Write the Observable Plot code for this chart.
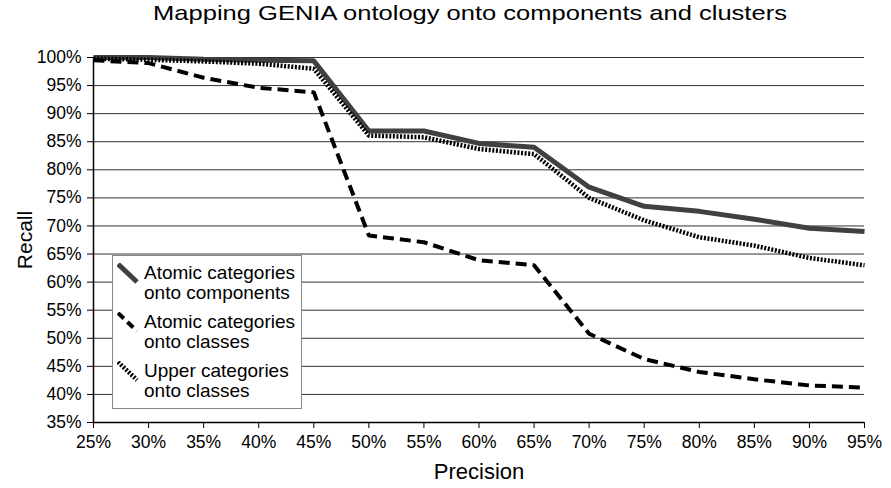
<!DOCTYPE html>
<html>
<head>
<meta charset="utf-8">
<script src="https://cdn.jsdelivr.net/npm/d3@7"></script>
<script src="https://cdn.jsdelivr.net/npm/@observablehq/plot@0.6"></script>
<style>
  body { margin: 0; background: #fff; font-family: "Liberation Sans", Arial, sans-serif; }
  #wrap { position: relative; width: 891px; height: 488px; overflow: hidden; background: #fff; }
  #title { position: relative; height: 36px; }
  #title span { position: absolute; left: 470px; top: 1px; font-size: 21px; white-space: nowrap; color: #000; transform-origin: center; }
  #legend { position: absolute; left: 112px; top: 255px; width: 188px; height: 152px; border: 1px solid #888; background: #fff; }
  .entry { position: absolute; left: 0; width: 188px; height: 46px; }
  .entry svg { position: absolute; left: 4px; top: 0; }
  .entry .lbl { position: absolute; left: 31px; top: 0; font-size: 19px; line-height: 20.5px; color: #000; white-space: nowrap; }
</style>
</head>
<body>
<div id="wrap">
  <div id="title"><span id="titletext"></span></div>
  <div id="chart"></div>
  <div id="legend"></div>
</div>
<script>
const titleText = "Mapping GENIA ontology onto components and clusters";
const xLabel = "Precision";
const yLabel = "Recall";

const precision = [25, 30, 35, 40, 45, 50, 55, 60, 65, 70, 75, 80, 85, 90, 95];
const atomicComponents = [100, 100, 99.7, 99.5, 99.4, 86.9, 86.9, 84.7, 84.0, 76.9, 73.5, 72.6, 71.2, 69.6, 69.0];
const atomicClasses = [99.5, 99.0, 96.4, 94.6, 93.8, 68.3, 67.1, 63.9, 63.0, 50.8, 46.3, 44.0, 42.7, 41.6, 41.2];
const upperClasses = [99.8, 99.6, 99.3, 98.9, 98.0, 86.1, 85.8, 83.7, 82.8, 75.0, 71.0, 68.0, 66.5, 64.3, 63.0];

const yTicks = [35, 40, 45, 50, 55, 60, 65, 70, 75, 80, 85, 90, 95, 100];
const xTicks = precision;

const seriesNames = [
  ["Atomic categories", "onto components"],
  ["Atomic categories", "onto classes"],
  ["Upper categories", "onto classes"]
];
const seriesStyles = [
  { stroke: "#404040", strokeWidth: 5, strokeDasharray: null },
  { stroke: "#000", strokeWidth: 4, strokeDasharray: "11,6" },
  { stroke: "#000", strokeWidth: 4.5, strokeDasharray: "2,1.6" }
];
const seriesValues = [atomicComponents, atomicClasses, upperClasses];

const pct = d => d + "%";
const font = '"Liberation Sans", Arial, sans-serif';

const lineMarks = seriesValues.map((vals, i) => {
  const s = seriesStyles[i];
  const opts = { x: precision, y: vals, stroke: s.stroke, strokeWidth: s.strokeWidth, strokeLinecap: "butt", strokeLinejoin: "miter" };
  if (s.strokeDasharray) opts.strokeDasharray = s.strokeDasharray;
  return Plot.line(vals, opts);
});

const chart = Plot.plot({
  width: 891,
  height: 452,
  marginLeft: 93,
  marginRight: 27,
  marginTop: 21,
  marginBottom: 66,
  style: { fontFamily: font, background: "white", color: "black", overflow: "visible" },
  x: { domain: [25, 95] },
  y: { domain: [35, 100] },
  marks: [
    Plot.gridY(yTicks, { stroke: "#333", strokeOpacity: 1, strokeWidth: 1 }),
    Plot.axisY(yTicks, { tickFormat: pct, tickSize: 6, tickPadding: 6, fontSize: 17.5, label: null }),
    Plot.axisX(xTicks, { tickFormat: pct, tickSize: 6, tickPadding: 7, fontSize: 17.5, label: null }),
    Plot.ruleY([35], { stroke: "black", strokeWidth: 1.5 }),
    Plot.ruleX([25], { stroke: "black", strokeWidth: 1.5 }),
    ...lineMarks,
    Plot.text([xLabel], { text: d => d, frameAnchor: "bottom", dy: 56, lineAnchor: "bottom", textAnchor: "middle", fontSize: 22 }),
    Plot.text([yLabel], { text: d => d, frameAnchor: "left", dx: -62, rotate: -90, lineAnchor: "bottom", textAnchor: "middle", fontSize: 21 })
  ]
});
document.getElementById("chart").appendChild(chart);

// title
const ts = document.getElementById("titletext");
ts.textContent = titleText;
const natural = ts.offsetWidth;
const k = 634 / natural;
ts.style.transform = `translateX(-50%) scaleX(${k})`;

// legend
const legend = document.getElementById("legend");
const entryTops = [6.5, 55.5, 104.5];
seriesNames.forEach((lines, i) => {
  const s = seriesStyles[i];
  const e = document.createElement("div");
  e.className = "entry";
  e.style.top = entryTops[i] + "px";
  const ns = "http://www.w3.org/2000/svg";
  const svg = document.createElementNS(ns, "svg");
  svg.setAttribute("width", 22);
  svg.setAttribute("height", 21);
  const ln = document.createElementNS(ns, "line");
  ln.setAttribute("x1", 1); ln.setAttribute("y1", 1);
  ln.setAttribute("x2", 20); ln.setAttribute("y2", 19);
  ln.setAttribute("stroke", s.stroke);
  ln.setAttribute("stroke-width", s.strokeWidth);
  ln.setAttribute("stroke-linecap", "butt");
  if (s.strokeDasharray) ln.setAttribute("stroke-dasharray", i === 1 ? "8,5" : s.strokeDasharray);
  svg.appendChild(ln);
  e.appendChild(svg);
  const lbl = document.createElement("div");
  lbl.className = "lbl";
  lbl.innerHTML = lines.join("<br>");
  e.appendChild(lbl);
  legend.appendChild(e);
});
</script>
</body>
</html>
